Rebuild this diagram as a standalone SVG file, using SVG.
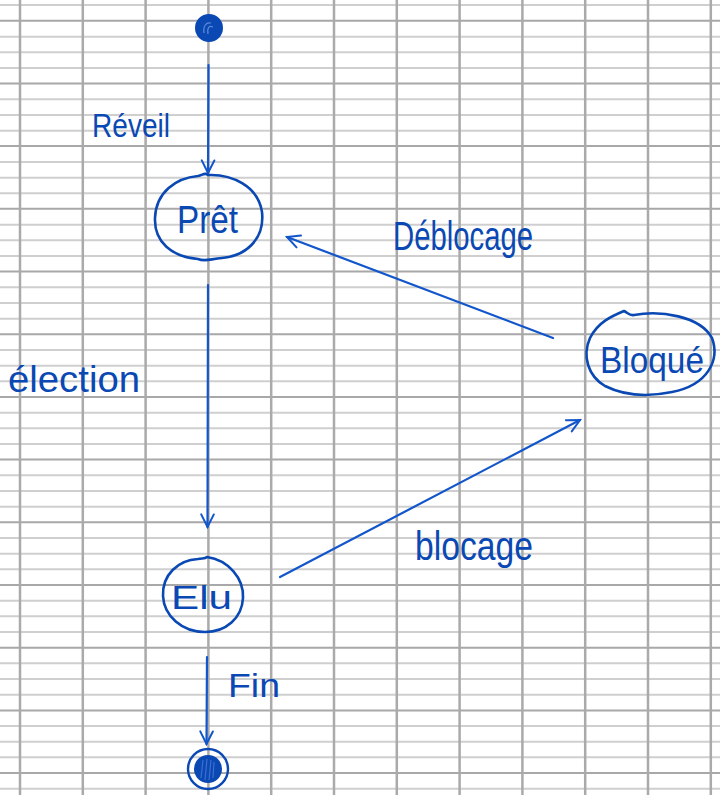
<svg xmlns="http://www.w3.org/2000/svg" width="720" height="795" viewBox="0 0 720 795">
<defs>
<style>
.gl{stroke:#cfcfcf;stroke-width:2}
.gd{stroke:#a8a8a8;stroke-width:2}
.gv{stroke:#aaaaaa;stroke-width:2.5}
.ink{fill:none;stroke:#0a48b4;stroke-width:2.6;stroke-linecap:round;stroke-linejoin:round}
.edge{fill:none;stroke:#1256cc;stroke-width:2.2;stroke-linecap:round;stroke-linejoin:round}
.t{font-family:"Liberation Sans","DejaVu Sans",sans-serif;fill:#0a48b4}
</style>
<marker id="ah" viewBox="0 0 20 20" refX="18" refY="10" markerWidth="18" markerHeight="18" markerUnits="userSpaceOnUse" orient="auto">
<path d="M4 3 L18 10 L4 17" fill="none" stroke="#1256cc" stroke-width="2.2" stroke-linecap="round"/>
</marker>
</defs>
<rect width="720" height="795" fill="#ffffff"/>
<g id="grid">
<path class="gl" d="M0 5H720M0 36.7H720M0 52.3H720M0 68H720M0 99.3H720M0 115H720M0 130.7H720M0 162H720M0 177.7H720M0 193.3H720M0 224.7H720M0 240.3H720M0 256H720M0 287.3H720M0 303H720M0 318.7H720M0 350H720M0 365.7H720M0 381.3H720M0 412.7H720M0 428.3H720M0 444H720M0 475.3H720M0 491H720M0 506.7H720M0 538H720M0 553.7H720M0 569.3H720M0 600.7H720M0 616.3H720M0 632H720M0 663.3H720M0 679H720M0 694.7H720M0 726H720M0 741.7H720M0 757.3H720M0 788.7H720"/>
<path class="gd" d="M0 20.7H720M0 83.4H720M0 146.1H720M0 208.8H720M0 271.5H720M0 334.2H720M0 396.9H720M0 459.6H720M0 522.3H720M0 585H720M0 647.7H720M0 710.4H720M0 773.1H720"/>
<path class="gv" d="M20 0V795M82.8 0V795M145.6 0V795M208.4 0V795M271.2 0V795M334 0V795M396.8 0V795M459.6 0V795M522.4 0V795M585.2 0V795M648 0V795M710.8 0V795"/>
</g>
<g id="connectors">
<path class="edge" d="M208.5 65 L208 173" marker-end="url(#ah)"/>
<path class="edge" d="M208 285 L207.5 527" marker-end="url(#ah)"/>
<path class="edge" d="M207 657 L206.5 744" marker-end="url(#ah)"/>
<path class="edge" d="M553 338 L287 237" marker-end="url(#ah)"/>
<path class="edge" d="M280 577 L580 420" marker-end="url(#ah)"/>
<text class="t" x="92" y="137" font-size="34" textLength="78" lengthAdjust="spacingAndGlyphs">Réveil</text>
<text class="t" x="8" y="392" font-size="36" textLength="132" lengthAdjust="spacingAndGlyphs">élection</text>
<text class="t" x="393" y="250" font-size="40" textLength="140" lengthAdjust="spacingAndGlyphs">Déblocage</text>
<text class="t" x="415" y="560" font-size="40" textLength="118" lengthAdjust="spacingAndGlyphs">blocage</text>
<text class="t" x="228" y="697" font-size="34" textLength="52" lengthAdjust="spacingAndGlyphs">Fin</text>
</g>
<g id="start">
<circle cx="209" cy="28" r="13" fill="#0a48b4" stroke="#0a48b4" stroke-width="2"/>
<path d="M204 33 C203 26 206 22 211 23 M208 34 C207 28 209 25 213 27" fill="none" stroke="#5d8ad8" stroke-width="1.2"/>
</g>
<g id="pret">
<path class="ink" d="M208 175 C232 174 258 186 262 212 C265 240 245 256 222 258 C210 259 205 262 198 259 C172 257 154 242 155 218 C156 192 176 178 198 176 C203 175 205 172 208 175 Z"/>
<text class="t" x="177" y="233" font-size="38" textLength="61" lengthAdjust="spacingAndGlyphs">Prêt</text>
</g>
<g id="bloque">
<path class="ink" d="M624 311 C628 313 630 316 634 315 C660 310 700 316 712 338 C720 360 708 385 672 392 C648 397 625 396 605 386 C588 376 582 356 590 338 C598 322 612 316 624 311 Z"/>
<text class="t" x="600" y="373" font-size="36" textLength="104" lengthAdjust="spacingAndGlyphs">Bloqué</text>
</g>
<g id="elu">
<path class="ink" d="M207 557 C228 560 244 578 243 598 C242 618 226 632 205 632 C182 632 164 616 163 596 C162 575 178 560 198 559 C202 558 205 559 207 557 Z"/>
<text class="t" x="171" y="609" font-size="34" textLength="61" lengthAdjust="spacingAndGlyphs">Elu</text>
</g>
<g id="end">
<circle cx="208" cy="769" r="20" fill="none" stroke="#0a48b4" stroke-width="2.4"/>
<circle cx="208" cy="769" r="14" fill="#0a48b4"/>
<path d="M201 778 L203 760 M205 780 L207 759 M209 780 L211 760 M213 778 L214 762" stroke="#3c6fcf" stroke-width="1.2" fill="none"/>
</g>
</svg>
